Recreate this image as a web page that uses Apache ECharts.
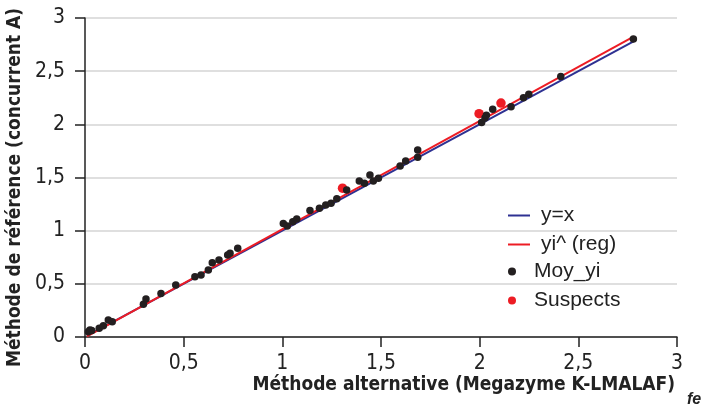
<!DOCTYPE html>
<html>
<head>
<meta charset="utf-8">
<script src="https://cdn.jsdelivr.net/npm/echarts@6/dist/echarts.min.js"></script>
<style>
  html, body { margin: 0; padding: 0; background: #fff; }
  #chart { width: 708px; height: 411px; }
</style>
</head>
<body>
<div id="chart"></div>
<script>
var moyX = [0.017, 0.025, 0.034, 0.072, 0.093, 0.118, 0.138, 0.296, 0.309, 0.385, 0.46,
  0.557, 0.588, 0.625, 0.645, 0.679, 0.723, 0.735, 0.774,
  1.005, 1.025, 1.053, 1.073, 1.14, 1.188, 1.22, 1.247, 1.276, 1.326,
  1.39, 1.416, 1.444, 1.461, 1.487, 1.597, 1.625, 1.686, 1.686,
  2.01, 2.027, 2.034, 2.066, 2.159, 2.222, 2.249, 2.411, 2.779];
var moyY = [0.05, 0.066, 0.06, 0.082, 0.106, 0.16, 0.144, 0.307, 0.357, 0.41, 0.489,
  0.567, 0.583, 0.63, 0.699, 0.724, 0.771, 0.787, 0.834,
  1.068, 1.044, 1.085, 1.11, 1.19, 1.21, 1.242, 1.258, 1.301, 1.383,
  1.467, 1.446, 1.524, 1.467, 1.493, 1.609, 1.656, 1.759, 1.69,
  2.018, 2.06, 2.085, 2.142, 2.166, 2.251, 2.283, 2.449, 2.803];
var suspX = [1.305, 1.997, 2.108];
var suspY = [1.40, 2.10, 2.20];
var lineX = [0.01, 2.78];
var identY = [0.01, 2.78];
var regY = [0.005, 2.825];
var ticks = ['0', '0,5', '1', '1,5', '2', '2,5', '3'];

function pairs(xs, ys) {
  return xs.map(function (x, i) { return [x, ys[i]]; });
}
function tickLabel(v) {
  return ticks[Math.round(v * 2)];
}

var font = "'DejaVu Sans Condensed', 'DejaVu Sans', sans-serif";
var legendText = { fontFamily: "'Liberation Sans', Arial, sans-serif", fontSize: 21, color: '#222',
  lineHeight: 20, padding: [0, 0, 0, 6] };
var chart = echarts.init(document.getElementById('chart'));
chart.setOption({
  animation: false,
  grid: { left: 85, right: 31, top: 18, bottom: 74, outerBoundsMode: 'none' },
  xAxis: {
    type: 'value', min: 0, max: 3, interval: 0.5,
    name: 'Méthode alternative (Megazyme K-LMALAF)',
    nameLocation: 'end', nameGap: 0,
    nameTextStyle: { fontFamily: font, fontWeight: 'bold', fontSize: 19, color: '#222',
      align: 'right', verticalAlign: 'top', padding: [39, 2, 0, 0] },
    axisLine: { lineStyle: { color: '#222', width: 1.5 } },
    axisTick: { show: true, length: 10, lineStyle: { color: '#222', width: 1.5 } },
    axisLabel: { fontFamily: font, fontSize: 21, color: '#222', margin: 16, formatter: tickLabel },
    splitLine: { show: false }
  },
  yAxis: {
    type: 'value', min: 0, max: 3, interval: 0.5,
    name: 'Méthode de référence (concurrent A)',
    nameLocation: 'middle', nameGap: 59, nameRotate: 90,
    nameTextStyle: { fontFamily: font, fontWeight: 'bold', fontSize: 19, color: '#222', padding: [0, 20, 0, 0] },
    axisLine: { show: true, lineStyle: { color: '#222', width: 1.5 } },
    axisTick: { show: true, length: 10, lineStyle: { color: '#222', width: 1.5 } },
    axisLabel: { fontFamily: font, fontSize: 21, color: '#222', margin: 20, formatter: tickLabel },
    splitLine: { show: true, lineStyle: { color: '#d4d4d4', width: 1.5 } }
  },
  legend: [
    { orient: 'vertical', left: 503, top: 200, icon: 'rect',
      itemWidth: 22, itemHeight: 2, itemGap: 8, textStyle: legendText,
      data: ['y=x', 'yi^ (reg)'] },
    { orient: 'vertical', left: 503, top: 256, icon: 'circle',
      itemWidth: 22, itemHeight: 8, itemGap: 8, textStyle: legendText,
      data: ['Moy_yi', 'Suspects'] }
  ],
  series: [
    { name: 'y=x', type: 'line', data: pairs(lineX, identY), symbol: 'none',
      lineStyle: { color: '#2e3192', width: 2 }, itemStyle: { color: '#2e3192' }, z: 2 },
    { name: 'yi^ (reg)', type: 'line', data: pairs(lineX, regY), symbol: 'none',
      lineStyle: { color: '#ed1c24', width: 2 }, itemStyle: { color: '#ed1c24' }, z: 3 },
    { name: 'Moy_yi', type: 'scatter', data: pairs(moyX, moyY), symbolSize: 7.5,
      itemStyle: { color: '#231f20', opacity: 1 }, z: 4 },
    { name: 'Suspects', type: 'scatter', data: pairs(suspX, suspY), symbolSize: 9.5,
      itemStyle: { color: '#ed1c24', opacity: 1 }, z: 3 }
  ],
  graphic: [{
    type: 'text', left: 687, top: 392,
    style: { text: 'fe', fontFamily: "'Liberation Sans', Arial, sans-serif", fontWeight: 'bold',
      fontStyle: 'italic', fontSize: 16, fill: '#222' }
  }]
});
</script>
</body>
</html>
